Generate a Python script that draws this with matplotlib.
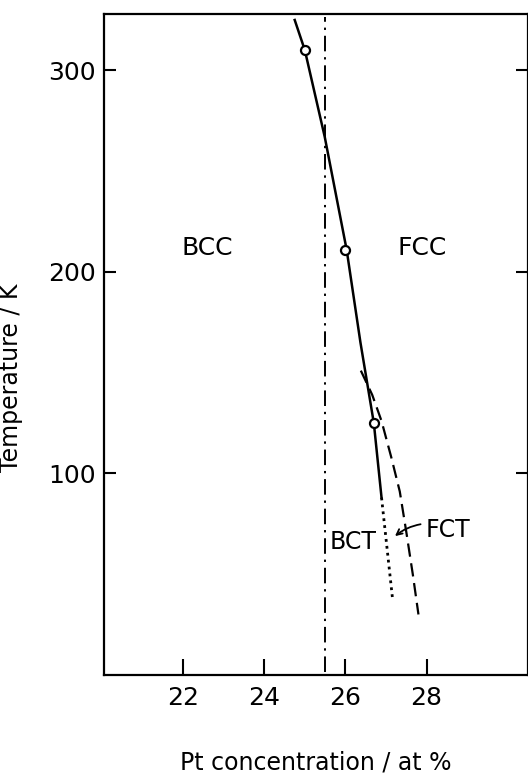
import numpy as np
import matplotlib
matplotlib.use("Agg")
import matplotlib.pyplot as plt

plt.rcParams['font.family'] = ['DejaVu Sans']

# measured transition points (Pt at%, K)
pt_meas = [25.0, 26.0, 26.7]
t_meas = [310, 211, 125]

# BCC -> FCC boundary (solid line)
pt_fcc = [24.75, 25.0, 25.49, 26.03, 26.37, 26.7, 26.89]
t_fcc = [325, 310, 267, 211, 165, 125, 88]

# BCT extension (dotted)
pt_bct = [26.89, 27.16]
t_bct = [88, 38]

# FCT boundary (dashed)
pt_fct = [26.38, 26.66, 26.89, 27.13, 27.34, 27.5, 27.66, 27.8]
t_fct = [151, 139, 126, 108, 91, 71, 50, 30]

x_boundary = 25.5

fig = plt.figure(figsize=(5.28, 7.74), dpi=100)
ax = fig.add_axes([0.197, 0.128, 0.803, 0.854])

ax.axvline(x_boundary, ymin=0.005, ymax=0.995, color='black', lw=1.4,
           linestyle=(0, (8, 3, 1.2, 3)))
ax.plot(pt_fcc, t_fcc, color='black', lw=1.8)
ax.plot(pt_bct, t_bct, color='black', lw=2.0, linestyle=(0, (1, 1.5)))
ax.plot(pt_fct, t_fct, color='black', lw=1.6, linestyle=(0, (6, 3)))
ax.plot(pt_meas, t_meas, 'o', ms=6.5, mfc='white', mec='black', mew=1.6)

ax.text(22.6, 212, 'BCC', fontsize=18, ha='center', va='center')
ax.text(27.88, 212, 'FCC', fontsize=18, ha='center', va='center')
ax.text(26.2, 66, 'BCT', fontsize=17, ha='center', va='center')
ax.text(28.52, 72, 'FCT', fontsize=17, ha='center', va='center')
ax.annotate('', xy=(27.17, 68), xytext=(27.92, 75),
            arrowprops=dict(arrowstyle='->', lw=1.3, color='black',
                            connectionstyle='arc3,rad=0.15'))

ax.set_xlim(20.05, 30.5)
ax.set_ylim(0, 328)
ax.set_xticks([22, 24, 26, 28])
ax.set_yticks([100, 200, 300])
ax.tick_params(axis='x', direction='in', length=11.5, width=1.5, pad=8,
               labelsize=18)
ax.tick_params(axis='y', direction='in', length=8.5, width=1.5, pad=6,
               labelsize=18, right=True)
for sp in ax.spines.values():
    sp.set_linewidth(1.6)

ax.set_xlabel('Pt concentration / at %', fontsize=17)
ax.set_ylabel('Temperature / K', fontsize=17)
ax.xaxis.set_label_coords(0.5, -0.115)
ax.yaxis.set_label_coords(-0.19, 0.45)

fig.savefig('out.png', dpi=100)
